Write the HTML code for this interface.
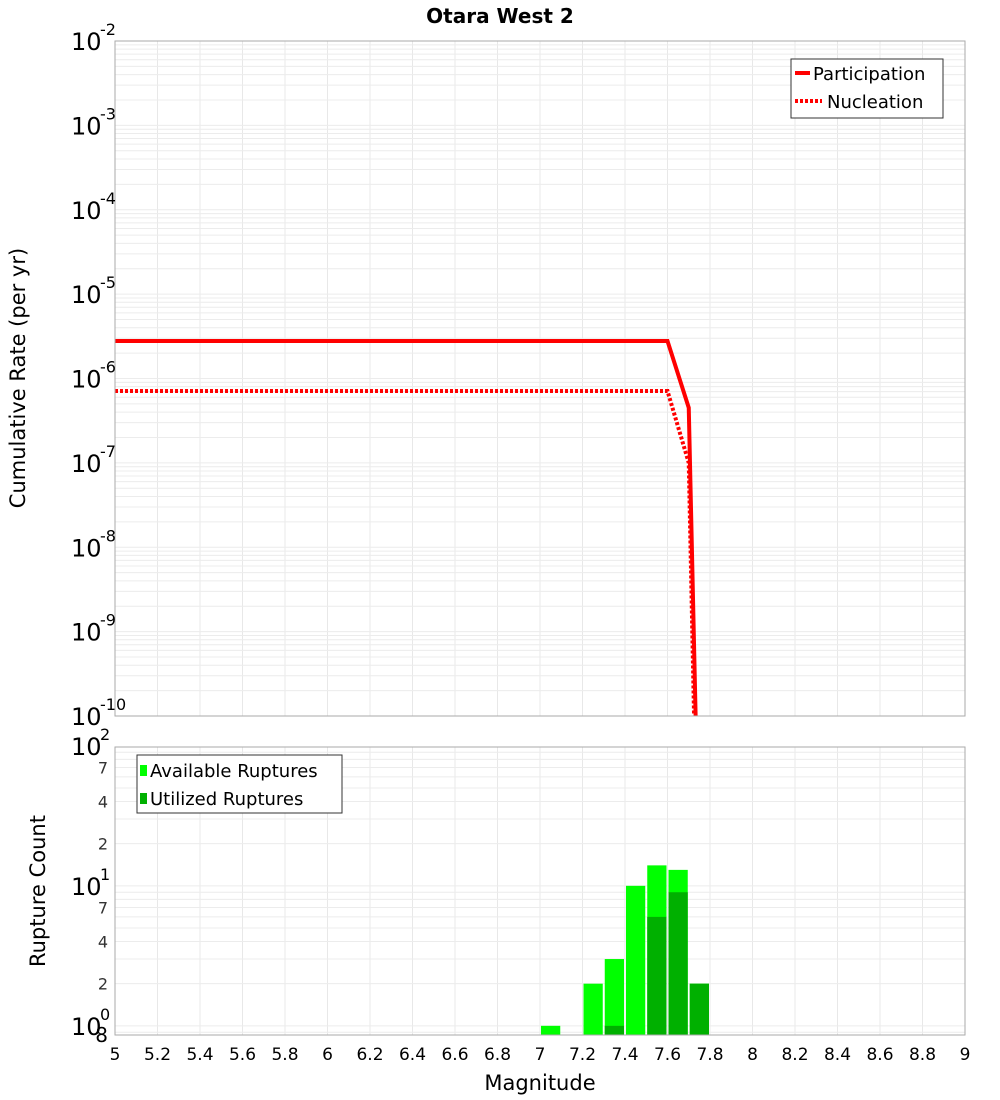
<!DOCTYPE html>
<html><head><meta charset="utf-8"><style>
body{margin:0;background:#fff;}
svg{display:block;font-family:"DejaVu Sans","Liberation Sans",sans-serif;}
</style></head><body>
<svg id="c" width="1000" height="1100">
<text x="500" y="23" text-anchor="middle" font-size="20" font-weight="bold">Otara West 2</text>
<text transform="translate(25,378) rotate(-90)" text-anchor="middle" font-size="21">Cumulative Rate (per yr)</text>
<text transform="translate(45,891) rotate(-90)" text-anchor="middle" font-size="21">Rupture Count</text>
<text x="540" y="1090" text-anchor="middle" font-size="21">Magnitude</text>
<g id="grid"></g><g id="marks"></g><g id="axes"></g>
<g>
<rect x="791" y="59" width="152" height="59" fill="#fff" stroke="#333"/>
<line x1="795" y1="73" x2="810" y2="73" stroke="#f00" stroke-width="4"/>
<text x="813" y="80" font-size="18">Participation</text>
<line x1="795" y1="101" x2="822" y2="101" stroke="#f00" stroke-width="4" stroke-dasharray="3,2"/>
<text x="827" y="108" font-size="18">Nucleation</text>
</g>
<g>
<rect x="137" y="755" width="205" height="58" fill="#fff" stroke="#333"/>
<rect x="140" y="765" width="7" height="11" fill="#00ff00"/>
<text x="150" y="777" font-size="18">Available Ruptures</text>
<rect x="140" y="793" width="7" height="11" fill="#00b000"/>
<text x="150" y="805" font-size="18">Utilized Ruptures</text>
</g>
</svg>
<script>
const partMag = [5.0, 7.6, 7.7, 7.75];
const partRate = [2.78e-6, 2.78e-6, 4.5e-7, 1e-12];
const nuclMag = [5.0, 7.6, 7.7, 7.75];
const nuclRate = [7.1e-7, 7.1e-7, 1.0e-7, 1e-13];
const binStart = [7.0, 7.2, 7.3, 7.4, 7.5, 7.6, 7.7];
const available = [1, 2, 3, 10, 14, 13, 2];
const utilized = [0, 0, 1, 0, 6, 9, 2];
const xTicks = ["5","5.2","5.4","5.6","5.8","6","6.2","6.4","6.6","6.8","7","7.2","7.4","7.6","7.8","8","8.2","8.4","8.6","8.8","9"];
const topExps = [-2,-3,-4,-5,-6,-7,-8,-9,-10];

const NS="http://www.w3.org/2000/svg";
const L=115,R=965,T1=41,B1=716,T2=747,B2=1035;
const X=m=>L+(m-5)/4*(R-L);
const Y1=v=>T1+(-2-Math.log10(v))*(B1-T1)/8;
const Y2=v=>B2-(Math.log10(v)-Math.log10(0.86))*140;
function mk(p,t,a){const e=document.createElementNS(NS,t);for(const k in a)e.setAttribute(k,a[k]);p.appendChild(e);return e;}
const grid=document.getElementById('grid'),marks=document.getElementById('marks'),axes=document.getElementById('axes');
for(const t of xTicks){const x=X(+t);
 const g1=mk(grid,'line',{x1:x,x2:x,y1:T1,y2:B1,stroke:'#e8e8e8'});
 
 
 const g2=mk(grid,'line',{x1:x,x2:x,y1:T2,y2:B2,stroke:'#e8e8e8'});
 
 
}
for(let e=-10;e<-2;e++)for(let k=1;k<10;k++){const y=Y1(k*Math.pow(10,e));
 const g=mk(grid,'line',{x1:L,x2:R,y1:y,y2:y,stroke:'#ececec'});
 
 
}
for(let e=-1;e<2;e++)for(let k=1;k<10;k++){const v=k*Math.pow(10,e);const y=Y2(v);if(y<T2||y>B2)continue;
 const g=mk(grid,'line',{x1:L,x2:R,y1:y,y2:y,stroke:'#ececec'});
 
 
}
const bw=(R-L)/40;
binStart.forEach((b,i)=>{
 const x=X(b)+1;
 const a=mk(marks,'rect',{x:x,y:Y2(available[i]),width:bw-2,height:B2-Y2(available[i]),fill:'#00ff00'});
 
 
 if(utilized[i]>0){
 const u=mk(marks,'rect',{x:x,y:Y2(utilized[i]),width:bw-2,height:B2-Y2(utilized[i]),fill:'#00b000'});
 
 
 }
});
const clip=mk(marks,'clipPath',{id:'cp'});mk(clip,'rect',{x:L,y:T1,width:R-L,height:B1-T1});
const pp=mk(marks,'polyline',{points:partMag.map((m,i)=>X(m)+','+Y1(partRate[i])).join(' '),fill:'none',stroke:'#f00','stroke-width':4,'clip-path':'url(#cp)'});


const np=mk(marks,'polyline',{points:nuclMag.map((m,i)=>X(m)+','+Y1(nuclRate[i])).join(' '),fill:'none',stroke:'#f00','stroke-width':4,'stroke-dasharray':'3,2','clip-path':'url(#cp)'});


mk(axes,'rect',{x:L,y:T1,width:R-L,height:B1-T1,fill:'none',stroke:'#aaa'});
mk(axes,'rect',{x:L,y:T2,width:R-L,height:B2-T2,fill:'none',stroke:'#aaa'});
for(const e of topExps){const y=Y1(Math.pow(10,e));
 const t=mk(axes,'text',{x:71,y:y+9,'font-size':24});t.textContent='10';
 
 
 const s=mk(axes,'text',{x:100,y:y-6,'font-size':16});s.textContent=String(e);
}
[[100,'2'],[10,'1'],[1,'0']].forEach(([v,e])=>{const y=Y2(v);
 const t=mk(axes,'text',{x:71,y:y+9,'font-size':24});t.textContent='10';
 
 
 const s=mk(axes,'text',{x:100,y:y-6,'font-size':16});s.textContent=e;
});
[[70,'7'],[40,'4'],[20,'2'],[7,'7'],[4,'4'],[2,'2'],[0.8,'8']].forEach(([v,l])=>{const y=Y2(v);
 const t=mk(axes,'text',{x:108,y:Math.min(y+6,1042),'font-size':v<1?20:16,'text-anchor':'end',fill:v<1?'#000':'#333'});t.textContent=l;
 
 
});
for(const tk of xTicks){
 const t=mk(axes,'text',{x:X(+tk),y:1060,'font-size':17,'text-anchor':'middle'});t.textContent=tk;
 
 
}
</script>
</body></html>
